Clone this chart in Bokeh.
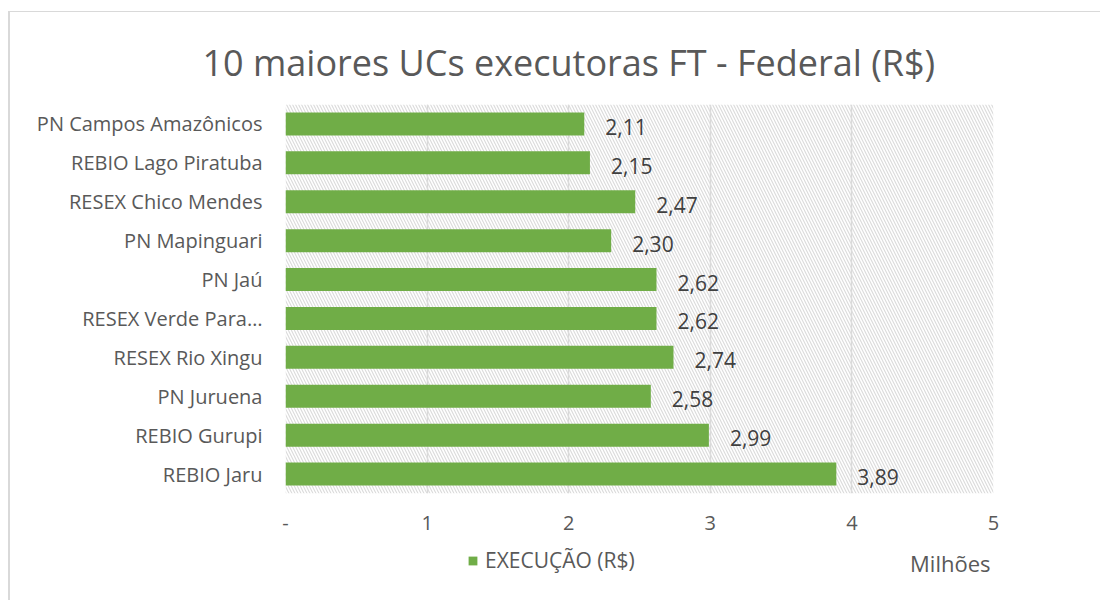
from bokeh.plotting import figure
from bokeh.layouts import column
from bokeh.models import (Range1d, FactorRange, FixedTicker, BoxAnnotation,
                          Legend, LegendItem, ColumnDataSource)
from bokeh.core.properties import value
from bokeh.embed import file_html
from bokeh.resources import INLINE

# ---- data ----
categories = ["PN Campos Amazônicos", "REBIO Lago Piratuba", "RESEX Chico Mendes",
              "PN Mapinguari", "PN Jaú", "RESEX Verde Para…", "RESEX Rio Xingu",
              "PN Juruena", "REBIO Gurupi", "REBIO Jaru"]
execucao = [2.11, 2.15, 2.47, 2.30, 2.62, 2.62, 2.74, 2.58, 2.99, 3.89]
x_ticks = [0, 1, 2, 3, 4, 5]
x_tick_labels = ["-", "1", "2", "3", "4", "5"]
series_name = "EXECUÇÃO (R$)"
title_text = "10 maiores UCs executoras FT - Federal (R$)"
unit_text = "Milhões"

FONT = "Open Sans"
GREEN = "#70AD47"
GRID = "#d9d9d9"
TXT = "#595959"
W = 1090

labels = [f"{v:.2f}".replace(".", ",") for v in execucao]
src = ColumnDataSource(dict(cat=categories, val=execucao, lab=labels))

# ---- main chart ----
p = figure(
    y_range=FactorRange(*reversed(categories)),
    x_range=Range1d(0, 5),
    width=W, height=528,
    frame_width=708, frame_height=389,
    min_border_left=275, min_border_right=107,
    min_border_top=92, min_border_bottom=47,
    output_backend="svg", toolbar_location=None,
    background_fill_color="white", border_fill_color="white",
    outline_line_color=None,
)

p.add_layout(BoxAnnotation(left=0, right=5, fill_color=None, line_color=None,
                           hatch_pattern="\\", hatch_color="#dcdcdc",
                           hatch_scale=6, hatch_weight=1.2, level="underlay"))

bars = p.hbar(y="cat", right="val", left=0, height=0.59, source=src,
              fill_color=GREEN, line_color=None)

p.text(x="val", y="cat", text="lab", source=src, x_offset=21, y_offset=3,
       text_align="left", text_baseline="middle",
       text_font=value(FONT), text_font_size="21px", text_color="#404040")

p.xaxis.ticker = FixedTicker(ticks=x_ticks)
p.xaxis.major_label_overrides = {t: l for t, l in zip(x_ticks, x_tick_labels)}
p.xaxis.axis_line_color = None
p.xaxis.major_tick_line_color = None
p.xaxis.minor_tick_line_color = None
p.xaxis.major_label_standoff = 16
p.xaxis.major_label_text_font = FONT
p.xaxis.major_label_text_font_size = "20px"
p.xaxis.major_label_text_color = TXT

p.yaxis.axis_line_color = None
p.yaxis.major_tick_line_color = None
p.yaxis.minor_tick_line_color = None
p.yaxis.major_label_standoff = 17
p.yaxis.major_label_text_font = FONT
p.yaxis.major_label_text_font_size = "20px"
p.yaxis.major_label_text_color = TXT

p.xgrid.grid_line_color = GRID
p.xgrid.grid_line_width = 1.5
p.ygrid.grid_line_color = None

p.title.text = title_text
p.title.text_font = FONT
p.title.text_font_size = "36px"
p.title.text_font_style = "normal"
p.title.text_color = TXT
p.title.align = "left"
p.title.offset = -83
p.title.standoff = 35

# ---- legend strip (same x scale as the chart) ----
bot = figure(width=W, height=60, x_range=Range1d(0, 5), y_range=Range1d(0, 60),
             min_border_left=275, min_border_right=107,
             min_border_top=0, min_border_bottom=0,
             output_backend="svg", toolbar_location=None,
             outline_line_color=None, background_fill_color="white",
             border_fill_color="white")
bot.axis.visible = False
bot.grid.visible = False
swatch = bot.hbar(y=[-100], right=[1], left=0, height=1,
                  fill_color=GREEN, line_color=None)
bot.text(x=[5], y=[38], text=[unit_text], x_offset=-3,
         text_align="right", text_baseline="middle",
         text_font=value(FONT), text_font_size="22px", text_color=TXT)
legend = Legend(items=[LegendItem(label=series_name, renderers=[swatch])],
                location=(182, 26), orientation="horizontal",
                border_line_color=None, background_fill_alpha=0,
                padding=0, margin=0, glyph_width=11, glyph_height=11,
                label_standoff=7, label_text_font=FONT, label_height=20,
                label_text_font_size="21px", label_text_color=TXT)
bot.add_layout(legend, "center")

layout = column(p, bot, spacing=0)
layout.margin = (11, 0, 0, 8)
layout.styles = {"border-top": "1px solid #d9d9d9", "border-left": "2px solid #d9d9d9"}

open("out.html", "w").write(file_html(layout, INLINE))
